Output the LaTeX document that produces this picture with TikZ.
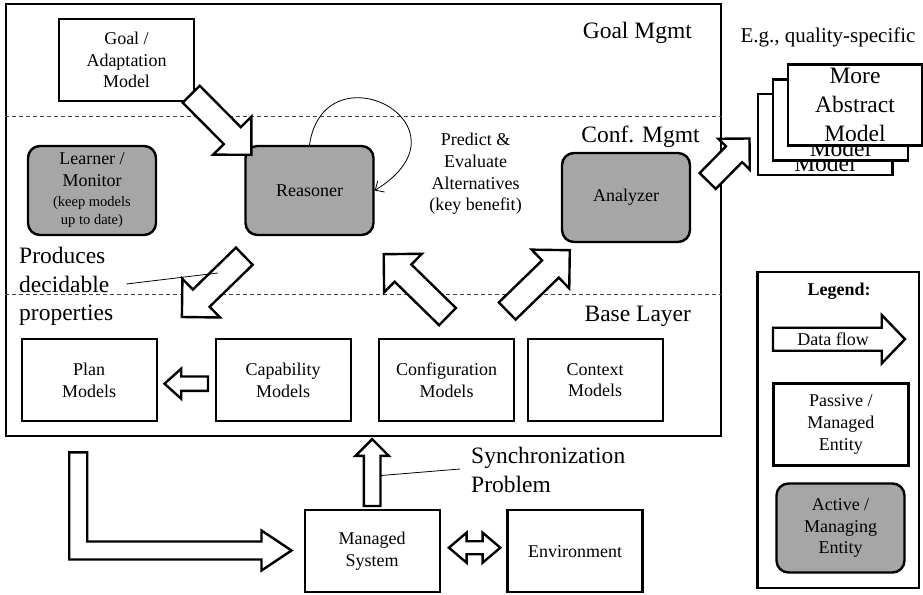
\documentclass[tikz,border=0pt]{standalone}
\usepackage{fontspec}
\setmainfont{Liberation Serif}
\usetikzlibrary{calc,arrows.meta}

\definecolor{activegray}{RGB}{166,166,166}
\newcommand\lbltext{\fontsize{23.5}{28.5}\selectfont}
\newcommand\abstext{\fontsize{23.5}{29}\selectfont}
\newcommand\egtext{\fontsize{21}{25}\selectfont}
\newcommand\boxtext{\fontsize{18}{21.6}\selectfont}
\newcommand\notetext{\fontsize{14.5}{18}\selectfont}

\tikzset{
  passive/.style={draw, line width=2.4pt, fill=white, minimum width=135pt, minimum height=82pt, align=center, font=\boxtext, inner sep=2pt},
  active/.style={passive, fill=activegray, rounded corners=12pt, minimum width=128pt, minimum height=89pt},
  layer/.style={dash pattern=on 4pt off 3pt, line width=0.8pt, black!75},
  flow/.style={draw, fill=white, line width=2.4pt},
  note/.style={line width=0.8pt},
  lbl/.style={font=\lbltext, inner sep=0pt},
}

% shaft half width, head half width, head length, tail, tip
\newcommand\fatarrow[5]{%
  \coordinate (fa-a) at (#4);
  \coordinate (fa-b) at (#5);
  \coordinate (fa-h) at ($(fa-b)!#3!(fa-a)$);
  \draw[flow] ($(fa-a)!#1!90:(fa-b)$) -- ($(fa-h)!#1!90:(fa-b)$) -- ($(fa-h)!#2!90:(fa-b)$) -- (fa-b)
    -- ($(fa-h)!#2!-90:(fa-b)$) -- ($(fa-h)!#1!-90:(fa-b)$) -- ($(fa-a)!#1!-90:(fa-b)$) -- cycle;}
% same, with a head on both ends
\newcommand\dblarrow[5]{%
  \coordinate (fa-a) at (#4);
  \coordinate (fa-b) at (#5);
  \coordinate (fa-g) at ($(fa-a)!#3!(fa-b)$);
  \coordinate (fa-h) at ($(fa-b)!#3!(fa-a)$);
  \draw[flow] (fa-a) -- ($(fa-g)!#2!90:(fa-b)$) -- ($(fa-g)!#1!90:(fa-b)$) -- ($(fa-h)!#1!90:(fa-b)$)
    -- ($(fa-h)!#2!90:(fa-b)$) -- (fa-b) -- ($(fa-h)!#2!-90:(fa-b)$) -- ($(fa-h)!#1!-90:(fa-b)$)
    -- ($(fa-g)!#1!-90:(fa-b)$) -- ($(fa-g)!#2!-90:(fa-b)$) -- cycle;}

\begin{document}
\begin{tikzpicture}[x=1pt,y=-1pt]
  \useasboundingbox (0,0) rectangle (923,594);
  \fill[white] (0,0) rectangle (923,594);

  % the three layers
  \node[draw, line width=2.4pt, minimum width=715pt, minimum height=432pt] (layers) at (363.5,220) {};
  \draw[layer] (layers.west |- 0,116) -- (layers.east |- 0,116);
  \draw[layer] (layers.west |- 0,294) -- (layers.east |- 0,294);

  \node[lbl, anchor=base] (goalmgmt) at (637.3,39) {Goal Mgmt};
  \node[lbl, anchor=base] (confmgmt) at (640.5,142.7) {Conf. Mgmt};
  \node[lbl, anchor=base] (baselayer) at (637.8,321.7) {Base Layer};

  \node[passive] (goal) at (126.5,60) {Goal /\\Adaptation\\Model};
  \node[active] (learner) at (92,190.5) {Learner /\\Monitor\\[-2pt]{\notetext (keep models}\\[-3pt]{\notetext up to date)}};
  \node[active] (reasoner) at (309.5,190.5) {Reasoner};
  \node[active] (analyzer) at (626,197.5) {Analyzer};
  \node[font=\boxtext, align=center] (predict) at (475.5,174) {Predict \&\\Evaluate\\Alternatives\\(key benefit)};

  \node[passive] (plan) at (89.2,380.2) {Plan\\Models};
  \node[passive] (capability) at (283.2,380.2) {Capability\\Models};
  \node[passive] (config) at (446.5,380.2) {Configuration\\Models};
  \node[passive] (context) at (595.2,380.2) {Context\\Models};

  \node[passive] (managed) at (372.2,551.2) {Managed\\System};
  \node[passive] (environment) at (575,551.2) {Environment};

  % abstract models
  \node[lbl, font=\egtext, anchor=base] (eg) at (828,42.5) {E.g., quality-specific};
  \node[passive, font=\abstext, minimum width=134.6pt, minimum height=81pt] (model3) at (825,134.5) {More\\Abstract\\Model};
  \node[passive, font=\abstext, minimum width=134.6pt, minimum height=81pt] (model2) at (840.5,119.8) {More\\Abstract\\Model};
  \node[passive, font=\abstext, minimum width=134.6pt, minimum height=81pt] (model1) at (855,105) {More\\Abstract\\Model};

  % data flows
  \fatarrow{12pt}{27pt}{27pt}{$(goal.south east)+(-4,-8)$}{$(reasoner.north west)+(7,10)$}
  \fatarrow{12pt}{27pt}{27pt}{$(reasoner.south west)+(0,20)$}{$(plan.north east)+(24,-21)$}
  \fatarrow{12pt}{27pt}{27pt}{$(config.north)+(1,-21.4)$}{$(reasoner.south east)+(9,18)$}
  \fatarrow{12pt}{27pt}{27pt}{$(config.north east)+(-8,-27)$}{$(analyzer.south west)+(9,7)$}
  \fatarrow{11.3pt}{22pt}{22pt}{$(analyzer.east)+(16.5,-16.5)$}{$(model3.west)+(-7,4)$}
  \fatarrow{7.2pt}{15pt}{16.7pt}{$(capability.west)+(-6.5,3.5)$}{$(plan.east)+(6.6,3.5)$}
  \fatarrow{8.3pt}{16.7pt}{16.7pt}{$(managed.north)+(0,-3)$}{$(managed.north |- layers.south)+(0,2)$}
  \dblarrow{6.5pt}{15pt}{17.7pt}{$(managed.east)+(8,-3.5)$}{$(environment.west)+(-6,-3.5)$}

  \coordinate (lstart) at ($(plan.south)+(-11,30)$);
  \coordinate (ltip) at ($(managed.west)+(-12,-0.7)$);
  \draw[flow] ($(lstart)+(-9,0)$) -- ($(lstart)+(9,0)$) |- ($(ltip)+(-30,-9)$) -- ($(ltip)+(-30,-20)$)
    -- (ltip) -- ($(ltip)+(-30,20)$) -- ($(ltip)+(-30,9)$) -| ($(lstart)+(-9,0)$) -- cycle;

  \draw[note, -{Straight Barb[length=7pt,width=13pt]}] (reasoner.north) .. controls +(15,-100) and +(105,-65) .. (reasoner.east);

  % notes
  \node[lbl, anchor=west, align=left] (produces) at (19,286.4) {Produces\\decidable\\properties};
  \coordinate (decidable-end) at (218,273);
  \draw[note] ($(produces.east)+(13,-2.4)$) -- (decidable-end);
  \node[lbl, anchor=west, align=left] (sync) at (471,470) {Synchronization\\Problem};
  \coordinate (sync-end) at ($(managed.north)+(8.8,-33.5)$);
  \draw[note] ($(sync.west)+(-11,-1)$) -- (sync-end);

  % legend
  \node[draw, line width=2.4pt, minimum width=161.7pt, minimum height=316.3pt] (legend) at (838.2,429.9) {};
  \node[font=\boxtext\bfseries, anchor=base] (legendtitle) at (839,295) {Legend:};
  \fatarrow{11.5pt}{24.2pt}{23.3pt}{773,339.2}{905,339.2}
  \node[font=\boxtext] (dataflow) at (833,339) {Data flow};
  \node[passive] (passivekey) at (840.8,424.5) {Passive /\\Managed\\Entity};
  \node[active] (activekey) at (840.5,528) {Active /\\Managing\\Entity};
\end{tikzpicture}
\end{document}
